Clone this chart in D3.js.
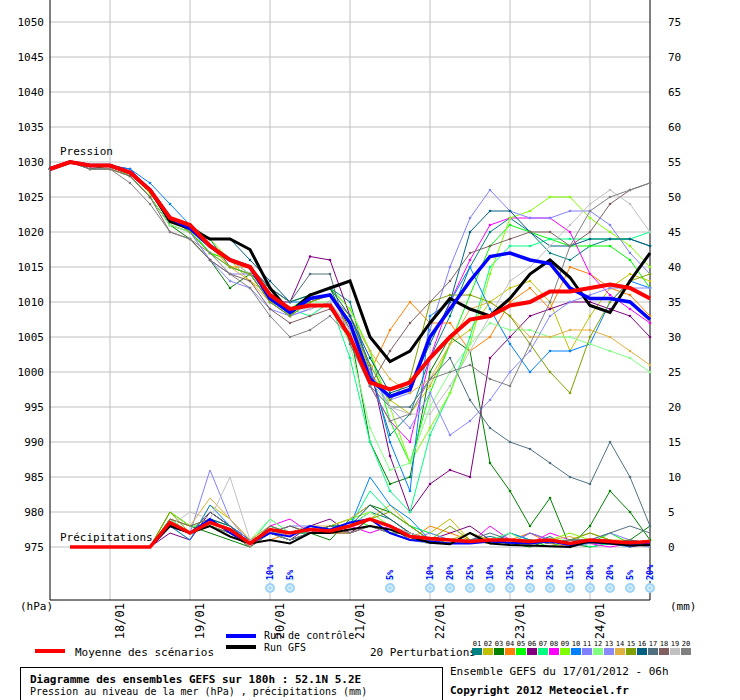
<!DOCTYPE html>
<html><head><meta charset="utf-8">
<script src="https://cdn.jsdelivr.net/npm/d3@7"></script>
<style>body{margin:0;background:#fff}text{font-family:"DejaVu Sans Mono",monospace}</style>
</head><body><svg id="c" width="740" height="700"></svg>
<script>
const days=["18/01","19/01","20/01","21/01","22/01","23/01","24/01"];
const dayIdx=[3,7,11,15,19,23,27];
const pTicks=d3.range(975,1051,5);
const mmTicks=d3.range(0,76,5);
const colors=["#008080","#c0c000","#008000","#ff8000","#00ff00","#800080","#00ff80","#ff00ff","#80ff00","#0080ff","#8080ff","#80ff80","#8888ff","#e0b040","#80a000","#006080","#507080","#806060","#c0c0c0","#808080"];
const mean=[1029,1030,1029.5,1029.5,1028.5,1026,1022,1021,1018,1016,1015,1011,1009,1009.5,1009.5,1005,998.5,997.5,998.5,1002,1005,1007.5,1008,1009.5,1010,1011.5,1011.5,1012,1012.5,1012,1010.5];
const control=[1029,1030,1029.5,1029.5,1028.5,1026,1022,1020.5,1018,1016,1015,1010.5,1008.5,1010.5,1011,1007,999,996.5,997.5,1005,1009,1013,1016.5,1017,1016,1015.5,1012,1010.5,1010.5,1010,1007.5];
const gfs=[1029,1030,1029.5,1029.5,1028.5,1026,1021.5,1020.5,1019,1019,1017.5,1012,1008.5,1011,1012,1013,1005,1001.5,1003,1007,1010.5,1009,1008,1010.5,1014,1016,1013.5,1009.5,1008.5,1013,1017];
const pert=[
[1029,1030,1029,1029,1028,1025,1021,1020,1019,1015,1014,1012,1010,1011,1012,1010,1000,991,994,1002,1008,1015,1020,1022,1020,1017,1016,1018,1019,1019,1018],
[1029,1030,1029.5,1029,1028,1025,1021,1020,1017,1016,1013,1011,1009,1010,1011,1008,1000,996,994,998,1004,1006,1010,1012,1013,1010,1003,1008,1012,1014,1013],
[1029,1030,1029,1029.5,1028,1025,1021,1019,1016,1012,1014,1010,1008,1011,1012,1006,990,984,985,1000,1005,1003,987,983,978,982,975,978,983,980,976],
[1029,1030,1029.5,1029.5,1028.5,1026,1022,1021,1018,1015,1015,1011,1008,1010,1011,1006,1000,1006,1010,1007,1007,1003,1005,1010,1012,1009,1015,1014,1012,1011,1008],
[1029,1030,1029.5,1029.5,1028.5,1026,1022,1020,1017,1016,1015,1011,1009,1011,1012,1009,1003,993,987,997,1004,1011,1018,1021,1020,1019,1018,1018,1018,1016,1012],
[1029,1030,1029.5,1029.5,1029,1026,1022,1021,1018,1016,1015,1010,1010,1016.5,1016,1008,1001,988,980,984,986,985,1002,1005,1008,1009,1010,1010,1009,1008,1005],
[1029,1030,1029.5,1029.5,1028.5,1026,1022,1020.5,1017,1015,1014,1010,1009,1008,1010,1002,990,983,980,991,997,1005,1015,1018,1018,1019,1019,1019,1019,1019,1020],
[1029,1030,1029.5,1029.5,1028.5,1026,1022,1021,1018,1016,1014,1011,1009,1010,1011,1007,998,993,990,1002,1010,1016,1021,1022,1022,1022,1020,1014,1011,1009,1007],
[1029,1030,1029.5,1029.5,1028.5,1025.5,1022,1021,1019,1016,1015,1012,1010,1011,1012,1009,1003,995,987,992,997,1004,1014,1022,1023,1025,1025,1022,1020,1018,1015],
[1029,1030,1029.5,1029.5,1029,1027,1024,1021,1018,1016,1015,1012,1010,1010,1011,1008,1001,990,983,1008,1010,1015,1009,1004,1000,1003,1003,1004,1010,1013,1012],
[1029,1030,1029.5,1029.5,1028.5,1026,1022,1020,1016,1014,1014,1010,1008,1009,1010,1005,999,996,997,1006,1015,1022,1026,1023,1022,1022,1023,1023,1021,1017,1014],
[1029,1030,1029.5,1029.5,1028,1025,1021,1020,1018,1016,1014,1011,1008,1010,1010,1004,992,986,987,995,1000,1004,1007,1006,1006,1005,1005,1004,1003,1002,1000],
[1029,1030,1029.5,1029.5,1028.5,1026,1022,1020,1016,1013,1012,1009,1008,1009,1010,1006,1000,995,992,997,991,993,996,1000,1003,1008,1010,1011,1012,1012,1012],
[1029,1030,1029.5,1029.5,1028.5,1026,1022,1021,1018,1015,1013,1010,1009,1010,1011,1008,1003,999,997,999,1004,1009,1010,1008,1005,1005,1006,1006,1005,1003,1001],
[1029,1030,1029.5,1029.5,1028.5,1026,1022,1020,1017,1015,1014,1010,1008,1010,1011,1007,1001,996,999,1010,1011,1011,1010,1008,1004,1000,997,1005,1010,1013,1014],
[1029,1030,1029.5,1029.5,1028.5,1026,1022,1021,1019,1019,1016,1013,1010,1011,1012,1008,1002,997,998,1004,1010,1020,1023,1023,1020,1018,1018,1019,1019,1019,1018],
[1029,1030,1029.5,1029.5,1028.5,1026,1022,1021,1018,1016,1015,1012,1010,1014,1014,1004,998,995,995,999,1002,996,992,990,989,987,985,984,990,985,978],
[1029,1030,1029,1029,1028,1025,1020,1019,1016,1014,1013,1009,1007,1008,1009,1005,998,1003,1007,1010,1013,1017,1018,1019,1020,1020,1018,1020,1024,1026,1027],
[1029,1030,1029.5,1029.5,1028.5,1026,1022,1021,1018,1016,1015,1011,1009,1009,1010,1006,999,995,994,994,998,1003,1008,1013,1015,1018,1021,1024,1026,1024,1020],
[1029,1030,1029,1029,1027,1024,1020,1019,1017,1014,1012,1008,1005,1006,1008,1005,998,993,994,999,1000,1001,999,998,1004,1010,1018,1023,1025,1026,1027]
];
const meanP=[null,0,0,0,0,0,3.5,2,3.5,2.5,0.5,2.5,2,2.5,2.3,3,4,3,1.5,1.2,1,0.8,1,1,0.8,1,0.5,1,0.8,0.6,0.8];
const controlP=[null,0,0,0,0,0,3,2,4,2,0.5,2,1.5,3,2.5,3.5,4,2,1,0.8,0.5,0.5,0.8,0.6,0.5,0.8,0.3,0.7,0.5,0.4,0.6];
const gfsP=[null,0,0,0,0,0,3,2,3,1.5,0.5,1,0.5,2,2,2.5,3,2.5,1.5,0.6,0.4,2,0.5,0.3,0.2,0.1,0,0.8,0.5,0.2,0.3];
const pertP=[
[null,0,0,0,0,0,4,2,5,3,0.5,2,1,2,3,3,5,4,2,1,0.5,1,1.5,1,0.5,1.5,0,1,0.5,1,0.5],
[null,0,0,0,0,0,3,1,6,4,1,3,2,3,2,2,4,6,3,2,4,1,0.5,2,1,0.5,1,2,1,0,1],
[null,0,0,0,0,0,5,3,2,1,0,2,3,2,1,4,6,5,3,1,0.5,0.5,1,0.5,0,1,0.5,0,0.5,1,3],
[null,0,0,0,0,0,3,2,4,3,0.5,1,2,3,2,2,3,2,1,3,2,1,0.5,1,2,0.5,0,1,1,0.5,0],
[null,0,0,0,0,0,4,3,3,2,0,3,2,2,3,4,3,2,2,1,0.5,2,1,0.5,1,0,1,0.5,2,0.5,0.5],
[null,0,0,0,0,0,2,1,5,3,1,2,1,3,4,2,4,3,2,1,2,3,1,0.5,2,1,0.5,1,1,0,0.5],
[null,0,0,0,0,0,4,2,4,3,0.5,4,2,2,3,3,8,5,3,2,1,0.5,1,2,1,0.5,1,0,0.5,1,0],
[null,0,0,0,0,0,3,2,3,2,0,3,4,2,2,3,2,3,2,1,1,0.5,3,1,0.5,2,1,0.5,0,0.5,1],
[null,0,0,0,0,0,5,3,4,2,0.5,2,1,2,3,4,5,3,1,0.5,1,2,1,0.5,1,1,2,1,0.5,1,0.5],
[null,0,0,0,0,0,3,1,6,3,1,2,2,3,2,3,10,6,4,1,0.5,1,0.5,2,1,0.5,1,1,0.5,0,1],
[null,0,0,0,0,0,3,2,11,4,0.5,2,3,3,2,3,4,3,1,2,1,0.5,1,0.5,2,1,0.5,1,2,1,0.5],
[null,0,0,0,0,0,4,2,3,2,1,4,2,3,2,3,5,3,2,1,0.5,1,1,2,0.5,1,1,0.5,1,0.5,1],
[null,0,0,0,0,0,3,2,4,2,0.5,2,1,2,3,2,3,2,1,0.5,0.5,0.5,1,0.5,0.5,1,0,0.5,1,0.5,0],
[null,0,0,0,0,0,4,3,7,4,1,3,2,3,3,4,6,4,2,1,1,2,1,1,0.5,1,1.5,0.5,1,1,0.5],
[null,0,0,0,0,0,5,2,3,2,0,2,2,3,2,3,4,5,3,1,3,1,0.5,1,1,0.5,1,2,1,0.5,1],
[null,0,0,0,0,0,3,2,4,3,0.5,2,1,2,3,3,6,4,2,1,0.5,1,1,0.5,1,0.5,1,1,0.5,1,0.5],
[null,0,0,0,0,0,3,2,5,3,0.5,3,2,2,2,3,4,3,1,1,0.5,1,2,1,0.5,1,0.5,1,2,3,2],
[null,0,0,0,0,0,4,3,4,2,1,2,3,2,3,2,3,2,2,1,1,1,0.5,1,1,0.5,1,0.5,0.5,1,0.5],
[null,0,0,0,0,0,3,5,4,10,1,2,2,3,2,3,4,3,2,1,0.5,0.5,1,1,0.5,1,0.5,1,0.5,0.5,1],
[null,0,0,0,0,0,3,2,3,2,0,2,1,2,2,2,3,2,1,1,0.5,1,1,0.5,1,0.5,1,1,0.5,0.5,0.5]
];
const snowIdx=[11,12,17,19,20,21,22,23,24,25,26,27,28,29,30];
const snowPct=["10%","5%","5%","10%","20%","25%","10%","25%","25%","25%","15%","20%","20%","5%","20%"];

const svg=d3.select("#c");
const x=d3.scaleLinear().domain([0,30]).range([50,650]);
const y=d3.scaleLinear().domain([975,1050]).range([547,22]);
const ym=d3.scaleLinear().domain([0,75]).range([547,22]);
const g=svg.append("g");
g.selectAll(".hg").data(pTicks).join("line").attr("x1",50).attr("x2",650).attr("y1",d=>y(d)).attr("y2",d=>y(d)).attr("stroke","#c0c0c0");
g.selectAll(".vg").data(dayIdx).join("line").attr("x1",d=>x(d)).attr("x2",d=>x(d)).attr("y1",0).attr("y2",600).attr("stroke","#c0c0c0");
g.append("line").attr("x1",50).attr("x2",50).attr("y1",0).attr("y2",600).attr("stroke","#000");
g.append("line").attr("x1",650).attr("x2",650).attr("y1",0).attr("y2",600).attr("stroke","#000");
g.append("line").attr("x1",50).attr("x2",650).attr("y1",600).attr("y2",600).attr("stroke","#000");
g.selectAll(".pl").data(pTicks).join("text").attr("x",44).attr("y",d=>y(d)+4).attr("text-anchor","end").attr("font-size",11).text(d=>d);
g.selectAll(".ml").data(mmTicks).join("text").attr("x",668).attr("y",d=>ym(d)+4).attr("font-size",11).text(d=>d);
g.selectAll(".dl").data(days).join("text").attr("transform",(d,i)=>`translate(${x(dayIdx[i])+14},603) rotate(-90)`).attr("text-anchor","end").attr("font-size",12).text(d=>d);
g.append("text").attr("x",20).attr("y",610).attr("font-size",11).text("(hPa)");
g.append("text").attr("x",670).attr("y",610).attr("font-size",11).text("(mm)");
g.append("text").attr("x",60).attr("y",155).attr("font-size",11).text("Pression");
g.append("text").attr("x",60).attr("y",541).attr("font-size",11).text("Précipitations");

const lp=d3.line().x((d,i)=>x(i)).y(d=>y(d));
const lm=d3.line().defined(d=>d!==null).x((d,i)=>x(i)).y(d=>ym(d));
pert.forEach((s,k)=>{
  g.append("path").attr("d",lp(s)).attr("fill","none").attr("stroke",colors[k]).attr("stroke-width",1);
  g.append("g").selectAll("circle").data(s).join("circle").attr("cx",(d,i)=>x(i)).attr("cy",d=>y(d)).attr("r",1.3).attr("fill",colors[k]);
  g.append("path").attr("d",lm(pertP[k])).attr("fill","none").attr("stroke",colors[k]).attr("stroke-width",1);
});
[[controlP,"#0000ff"],[gfsP,"#000"]].forEach(([s,c])=>g.append("path").attr("d",lm(s)).attr("fill","none").attr("stroke",c).attr("stroke-width",2));
g.append("path").attr("d",lm(meanP)).attr("fill","none").attr("stroke","#ff0000").attr("stroke-width",3.5);
g.append("path").attr("d",lp(gfs)).attr("fill","none").attr("stroke","#000").attr("stroke-width",3);
g.append("path").attr("d",lp(control)).attr("fill","none").attr("stroke","#0000ff").attr("stroke-width",3.5);
g.append("path").attr("d",lp(mean)).attr("fill","none").attr("stroke","#ff0000").attr("stroke-width",4);

const sn=g.selectAll(".sn").data(snowIdx).join("g").attr("transform",d=>`translate(${x(d)},588)`);
sn.append("rect").attr("x",-4).attr("y",-13).attr("width",8).attr("height",6).attr("fill","#e0fbff");
sn.append("circle").attr("r",5).attr("fill","#9fd4f5");
sn.append("circle").attr("r",2.3).attr("fill","none").attr("stroke","#fff").attr("stroke-width",1);
sn.append("text").attr("transform","translate(3,-8) rotate(-90)").attr("font-size",8.5).attr("font-weight","bold").attr("fill","#0000ff").text((d,i)=>snowPct[i]);

g.append("line").attr("x1",35).attr("x2",65).attr("y1",651).attr("y2",651).attr("stroke","#f00").attr("stroke-width",4);
g.append("text").attr("x",75).attr("y",656).attr("font-size",11).text("Moyenne des scénarios");
g.append("line").attr("x1",226).attr("x2",256).attr("y1",636).attr("y2",636).attr("stroke","#00f").attr("stroke-width",4);
g.append("text").attr("x",264).attr("y",639).attr("font-size",10).text("Run de contrôle");
g.append("line").attr("x1",226).attr("x2",256).attr("y1",647).attr("y2",647).attr("stroke","#000").attr("stroke-width",4);
g.append("text").attr("x",264).attr("y",651).attr("font-size",10).text("Run GFS");
g.append("text").attr("x",370).attr("y",656).attr("font-size",11).text("20 Perturbations");
colors.forEach((c,k)=>{
  g.append("rect").attr("x",472+k*11).attr("y",648).attr("width",10).attr("height",7).attr("fill",c);
  g.append("text").attr("x",477+k*11).attr("y",646).attr("text-anchor","middle").attr("font-size",7).text(String(k+1).padStart(2,"0"));
});
g.append("rect").attr("x",20.5).attr("y",667.5).attr("width",422).attr("height",34).attr("fill","none").attr("stroke","#000");
g.append("text").attr("x",30).attr("y",683).attr("font-size",11).attr("font-weight","bold").text("Diagramme des ensembles GEFS sur 180h : 52.1N 5.2E");
g.append("text").attr("x",30).attr("y",695).attr("font-size",10).text("Pression au niveau de la mer (hPa) , précipitations (mm)");
g.append("text").attr("x",450).attr("y",675).attr("font-size",11).text("Ensemble GEFS du 17/01/2012 - 06h");
g.append("text").attr("x",450).attr("y",694).attr("font-size",11).attr("font-weight","bold").text("Copyright 2012 Meteociel.fr");
</script></body></html>
